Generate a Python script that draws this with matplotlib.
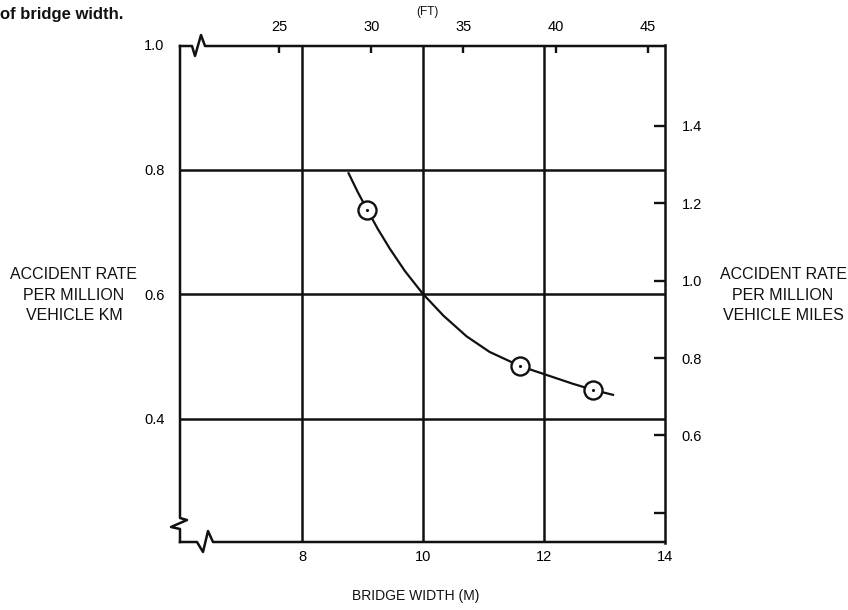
import numpy as np
import matplotlib
matplotlib.use("Agg")
import matplotlib.pyplot as plt

plt.rcParams['font.family'] = ['Liberation Sans', 'DejaVu Sans']
plt.rcParams['text.color'] = '#111111'

# curve (bridge width in m, accident rate per million veh-km)
curve_width_m = [8.77, 8.92, 9.08, 9.25, 9.45, 9.70, 10.0, 10.34, 10.72, 11.10,
                 11.61, 11.98, 12.47, 12.81, 13.14]
curve_rate_km = [0.794, 0.764, 0.735, 0.705, 0.673, 0.637, 0.600, 0.565, 0.532, 0.507,
                 0.484, 0.472, 0.456, 0.446, 0.438]

# plotted observations
obs_width_m = [9.08, 11.61, 12.81]
obs_rate_km = [0.735, 0.485, 0.445]

x_ticks_m = [8, 10, 12, 14]
y_ticks_km = [0.4, 0.6, 0.8, 1.0]
ft_ticks = [25, 30, 35, 40, 45]
mi_ticks = [0.4, 0.6, 0.8, 1.0, 1.2, 1.4]
mi_labels = ['', '0.6', '0.8', '1.0', '1.2', '1.4']

M_PER_FT = 0.3048
KM_PER_MI = 1.609344

W, H = 848, 610
fig = plt.figure(figsize=(W / 100, H / 100), dpi=100)
ax = fig.add_axes([181 / W, 1 - 543 / H, 484 / W, 498 / H])

lw = 1.8
ink = '#111111'

ax.set_xlim(6, 14)
ax.set_ylim(0.2, 1.0)

# grid
for xv in x_ticks_m[:-1]:
    ax.axvline(xv, color=ink, lw=lw)
for yv in y_ticks_km[:-1]:
    ax.axhline(yv, color=ink, lw=lw)

# curve and points
ax.plot(curve_width_m, curve_rate_km, color=ink, lw=1.6, zorder=3)
ax.plot(obs_width_m, obs_rate_km, 'o', ms=13, mfc='white', mec=ink, mew=1.7, zorder=4)
ax.plot(obs_width_m, obs_rate_km, '.', ms=2.5, color=ink, zorder=5)

ax.set_xticks(x_ticks_m)
ax.set_xticklabels([str(v) for v in x_ticks_m])
ax.set_yticks(y_ticks_km)
ax.set_yticklabels([f'{v:.1f}' for v in y_ticks_km])
ax.tick_params(axis='x', length=0, pad=5, labelsize=10.5)
ax.tick_params(axis='y', length=0, pad=12, labelsize=10.5)

for side in ['left', 'top', 'bottom']:
    ax.spines[side].set_visible(False)
ax.spines['right'].set_linewidth(lw)
ax.spines['right'].set_color(ink)

# frame with break marks (axes coordinates)
def px(x, y):
    return (x - 181) / 484, (543 - y) / 498

def frame_line(pts):
    xs, ys = zip(*[px(a, b) for a, b in pts])
    ax.plot(xs, ys, color=ink, lw=lw, transform=ax.transAxes, clip_on=False,
            solid_joinstyle='round', zorder=6)

# top spine with squiggle
frame_line([(180, 46), (192, 46), (195, 56), (201, 35), (205, 46), (665, 46)])
# left spine with zigzag break near the bottom
frame_line([(180, 46), (180, 518), (187, 520), (171, 527), (180, 529), (180, 542)])
# bottom spine with squiggle
frame_line([(180, 542), (197, 542), (203, 552), (208, 531), (213, 542), (665, 542)])

# top axis in feet
top = ax.secondary_xaxis('top', functions=(lambda m: m / M_PER_FT, lambda f: f * M_PER_FT))
top.set_xticks(ft_ticks)
top.set_xticklabels([str(v) for v in ft_ticks])
top.tick_params(direction='in', length=6, width=1.7, pad=8, labelsize=10.5, color=ink)
top.spines['top'].set_visible(False)

# right axis in miles
right = ax.secondary_yaxis('right', functions=(lambda k: k * KM_PER_MI, lambda mi: mi / KM_PER_MI))
right.set_yticks(mi_ticks)
right.set_yticklabels(mi_labels)
right.tick_params(direction='in', length=8, width=1.7, pad=12, labelsize=10.5, color=ink)
right.spines['right'].set_visible(False)

# labels
fig.text(74 / W, 1 - 295 / H, 'ACCIDENT RATE\nPER MILLION\nVEHICLE KM',
         ha='center', va='center', fontsize=11.5, linespacing=1.45)
fig.text(783 / W, 1 - 295 / H, 'ACCIDENT RATE\nPER MILLION\nVEHICLE MILES',
         ha='center', va='center', fontsize=11.5, linespacing=1.45)
fig.text(416 / W, 1 - 596 / H, 'BRIDGE WIDTH (M)', ha='center', va='center', fontsize=10)
fig.text(427 / W, 1 - 12 / H, '(FT)', ha='center', va='center', fontsize=8.5)
fig.text(0.0, 1 - 14 / H, 'of bridge width.', ha='left', va='center',
         fontsize=12, fontweight='bold')

fig.savefig('out.png', dpi=100)
